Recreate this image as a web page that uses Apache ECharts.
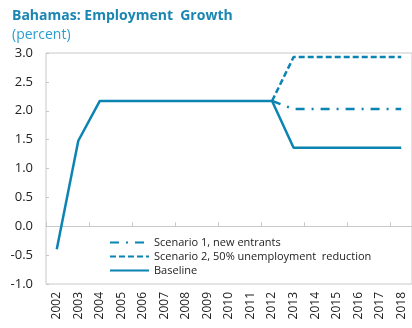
<!DOCTYPE html>
<html>
<head>
<meta charset="utf-8">
<script src="https://cdn.jsdelivr.net/npm/echarts@6/dist/echarts.min.js"></script>
<style>
  html, body { margin: 0; padding: 0; background: #fff; }
  #chart { width: 412px; height: 328px; }
</style>
</head>
<body>
<div id="chart"></div>
<script>
// Employment growth, percent
const years = ['2002','2003','2004','2005','2006','2007','2008','2009','2010',
               '2011','2012','2013','2014','2015','2016','2017','2018'];
const baseline  = [-0.4, 1.48, 2.17, 2.17, 2.17, 2.17, 2.17, 2.17, 2.17, 2.17, 2.17, 1.36, 1.36, 1.36, 1.36, 1.36, 1.36];
const scenario1 = [null, null, null, null, null, null, null, null, null, null, 2.17, 2.03, 2.03, 2.03, 2.03, 2.03, 2.03];
const scenario2 = [null, null, null, null, null, null, null, null, null, null, 2.17, 2.93, 2.93, 2.93, 2.93, 2.93, 2.93];
const yTicks = { min: -1, max: 3, interval: 0.5 };

const blue = '#0b84b2';
const font = '"Open Sans", "Noto Sans", sans-serif';

const chart = echarts.init(document.getElementById('chart'));
chart.setOption({
  animation: false,
  textStyle: { fontFamily: font },
  title: [
    { text: 'Bahamas: Employment  Growth', left: 7, top: 4,
      textStyle: { color: '#1a86b2', fontSize: 14, fontWeight: 'bold', fontFamily: font } },
    { text: '(percent)', left: 7, top: 23,
      textStyle: { color: '#2a9ed0', fontSize: 14, fontWeight: 'normal', fontFamily: font } }
  ],
  grid: { left: 46, top: 53, right: 0, bottom: 44, show: true, borderColor: '#c8c8c8', borderWidth: 1 },
  legend: {
    orient: 'vertical', left: 104, top: 232, itemGap: 3, itemWidth: 39, itemHeight: 12,
    itemStyle: { opacity: 0 },
    textStyle: { fontSize: 11, color: '#222', fontFamily: font },
    data: ['Scenario 1, new entrants', 'Scenario 2, 50% unemployment  reduction', 'Baseline']
  },
  xAxis: [
    { type: 'category', data: years, position: 'bottom',
      axisLine: { show: false, onZero: false }, axisTick: { show: false },
      axisLabel: { rotate: 90, fontSize: 12, color: '#222', margin: 8, interval: 0 } },
    { type: 'category', data: years, position: 'bottom',
      axisLine: { show: true, onZero: true, lineStyle: { color: '#c8c8c8' } },
      axisTick: { show: true, inside: true, length: 4, lineStyle: { color: '#c8c8c8' } },
      axisLabel: { show: false } }
  ],
  yAxis: {
    type: 'value', min: yTicks.min, max: yTicks.max, interval: yTicks.interval,
    axisLine: { show: false },
    axisTick: { show: true, inside: true, length: 3, lineStyle: { color: '#c8c8c8' } },
    splitLine: { show: false },
    axisLabel: { fontSize: 13, color: '#222', margin: 13, formatter: v => v.toFixed(1) }
  },
  series: [
    { name: 'Scenario 1, new entrants', type: 'line', data: scenario1, symbol: 'none',
      lineStyle: { color: blue, width: 2.5, type: [9, 7, 2, 7] }, itemStyle: { color: blue } },
    { name: 'Scenario 2, 50% unemployment  reduction', type: 'line', data: scenario2, symbol: 'none',
      lineStyle: { color: blue, width: 2.5, type: [6, 3] }, itemStyle: { color: blue } },
    { name: 'Baseline', type: 'line', data: baseline, symbol: 'none', z: 3,
      lineStyle: { color: blue, width: 2.5 }, itemStyle: { color: blue } }
  ]
});
</script>
</body>
</html>
